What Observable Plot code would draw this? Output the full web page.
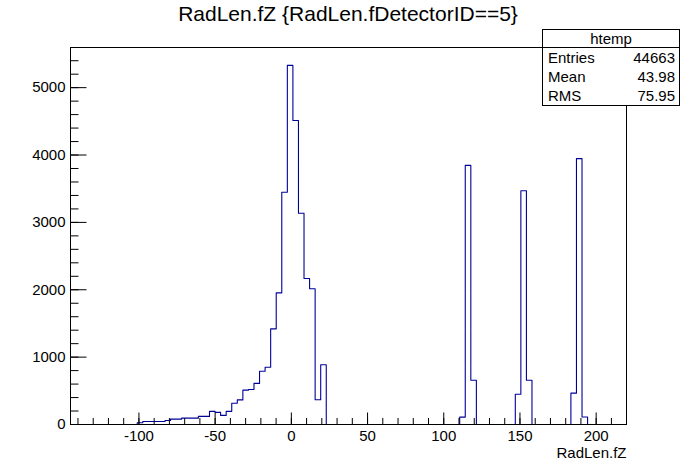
<!DOCTYPE html>
<html>
<head>
<meta charset="utf-8">
<script src="https://cdn.jsdelivr.net/npm/d3@7"></script>
<script src="https://cdn.jsdelivr.net/npm/@observablehq/plot@0.6"></script>
<style>
  body { margin: 0; background: #fff; font-family: "Liberation Sans", Arial, sans-serif; }
  #chart { position: relative; width: 696px; height: 472px; }
  #title { position: absolute; left: 0; width: 696px; top: 2px; text-align: center; font-size: 21px; }
  #stats { position: absolute; left: 542px; top: 29px; width: 136px; border: 1px solid #000; background: #fff; font-size: 15px; }
  #stats .head { text-align: center; height: 17px; line-height: 17px; border-bottom: 1px solid #000; }
  #stats .row { display: flex; justify-content: space-between; padding: 0 4px 0 5px; height: 19px; line-height: 20px; }
</style>
</head>
<body>
<div id="chart">
  <div id="title"></div>
  <div id="stats"></div>
</div>
<script>
console.log("radlen histogram loaded");

// histogram binning (htemp, 100 bins)
const xMin = -144.9;
const xMax = 219.9;
const nBins = 100;

// bin contents, bin 0 .. 99
const counts = [
  0, 0, 0, 0, 0, 0, 0, 0, 0, 0,
  0, 0, 25, 45, 45, 45, 45, 60, 80, 80,
  95, 95, 95, 120, 120, 195, 180, 135, 195, 315,
  365, 510, 520, 610, 790, 850, 1420, 1954, 3447, 5330,
  4512, 3135, 2168, 2014, 367, 888, 0, 0, 0, 0,
  0, 0, 0, 0, 0, 0, 0, 0, 0, 0,
  0, 0, 0, 0, 0, 0, 0, 0, 0, 0,
  110, 3847, 657, 0, 0, 0, 0, 0, 0, 0,
  450, 3470, 657, 0, 0, 0, 0, 0, 0, 0,
  465, 3946, 112, 0, 0, 0, 0, 0, 0, 0
];

const xMajor = [-100, -50, 0, 50, 100, 150, 200];
const xMinor = d3.range(-140, 211, 10);
const yMajor = [0, 1000, 2000, 3000, 4000, 5000];
const yMinor = d3.range(0, 5401, 200);

const titleText = "RadLen.fZ {RadLen.fDetectorID==5}";
const xLabel = "RadLen.fZ";
const statsName = "htemp";
const statsLabels = ["Entries", "Mean", "RMS"];
const statsValues = ["44663", "43.98", "75.95"];

const binWidth = (xMax - xMin) / nBins;
// outline of the histogram as a step path
const outline = [];
counts.forEach((c, i) => {
  const lo = xMin + i * binWidth;
  outline.push({x: lo, y: c}, {x: lo + binWidth, y: c});
});

const W = 696, H = 472;
const mL = 70, mR = 70, mT = 47, mB = 48;
const plotW = W - mL - mR, plotH = H - mT - mB;
const font = "Liberation Sans, Arial, sans-serif";
const plain = d => String(d);

document.querySelector("#title").textContent = titleText;
document.querySelector("#stats").innerHTML =
  `<div class="head">${statsName}</div>` +
  statsLabels.map((l, i) => `<div class="row"><span>${l}</span><span>${statsValues[i]}</span></div>`).join("");

const chart = Plot.plot({
  width: W,
  height: H,
  marginLeft: mL,
  marginRight: mR,
  marginTop: mT,
  marginBottom: mB,
  style: {fontFamily: font, fontSize: "15px", background: "white", color: "black"},
  x: {domain: [xMin, xMax]},
  y: {domain: [0, 5596]},
  marks: [
    Plot.line(outline, {x: "x", y: "y", stroke: "#000099", strokeWidth: 1.1}),
    // ticks drawn inside the frame, ROOT style
    Plot.tickX(xMinor, {x: d => d, insetTop: plotH - 6, stroke: "black"}),
    Plot.tickX(xMajor, {x: d => d, insetTop: plotH - 11.5, stroke: "black"}),
    Plot.tickY(yMinor, {y: d => d, insetRight: plotW - 8.5, stroke: "black"}),
    Plot.tickY(yMajor, {y: d => d, insetRight: plotW - 16.5, stroke: "black"}),
    Plot.axisX({ticks: xMajor, tickFormat: plain, tickSize: 0, tickPadding: 6, label: null, fontSize: 15}),
    Plot.axisY({ticks: yMajor, tickFormat: plain, tickSize: 0, tickPadding: 5, label: null, fontSize: 15}),
    Plot.text([xLabel], {frameAnchor: "bottom-right", dy: 33, fontSize: 15, fill: "black"}),
    Plot.frame({stroke: "black"})
  ]
});

document.querySelector("#chart").prepend(chart);
</script>
</body>
</html>
